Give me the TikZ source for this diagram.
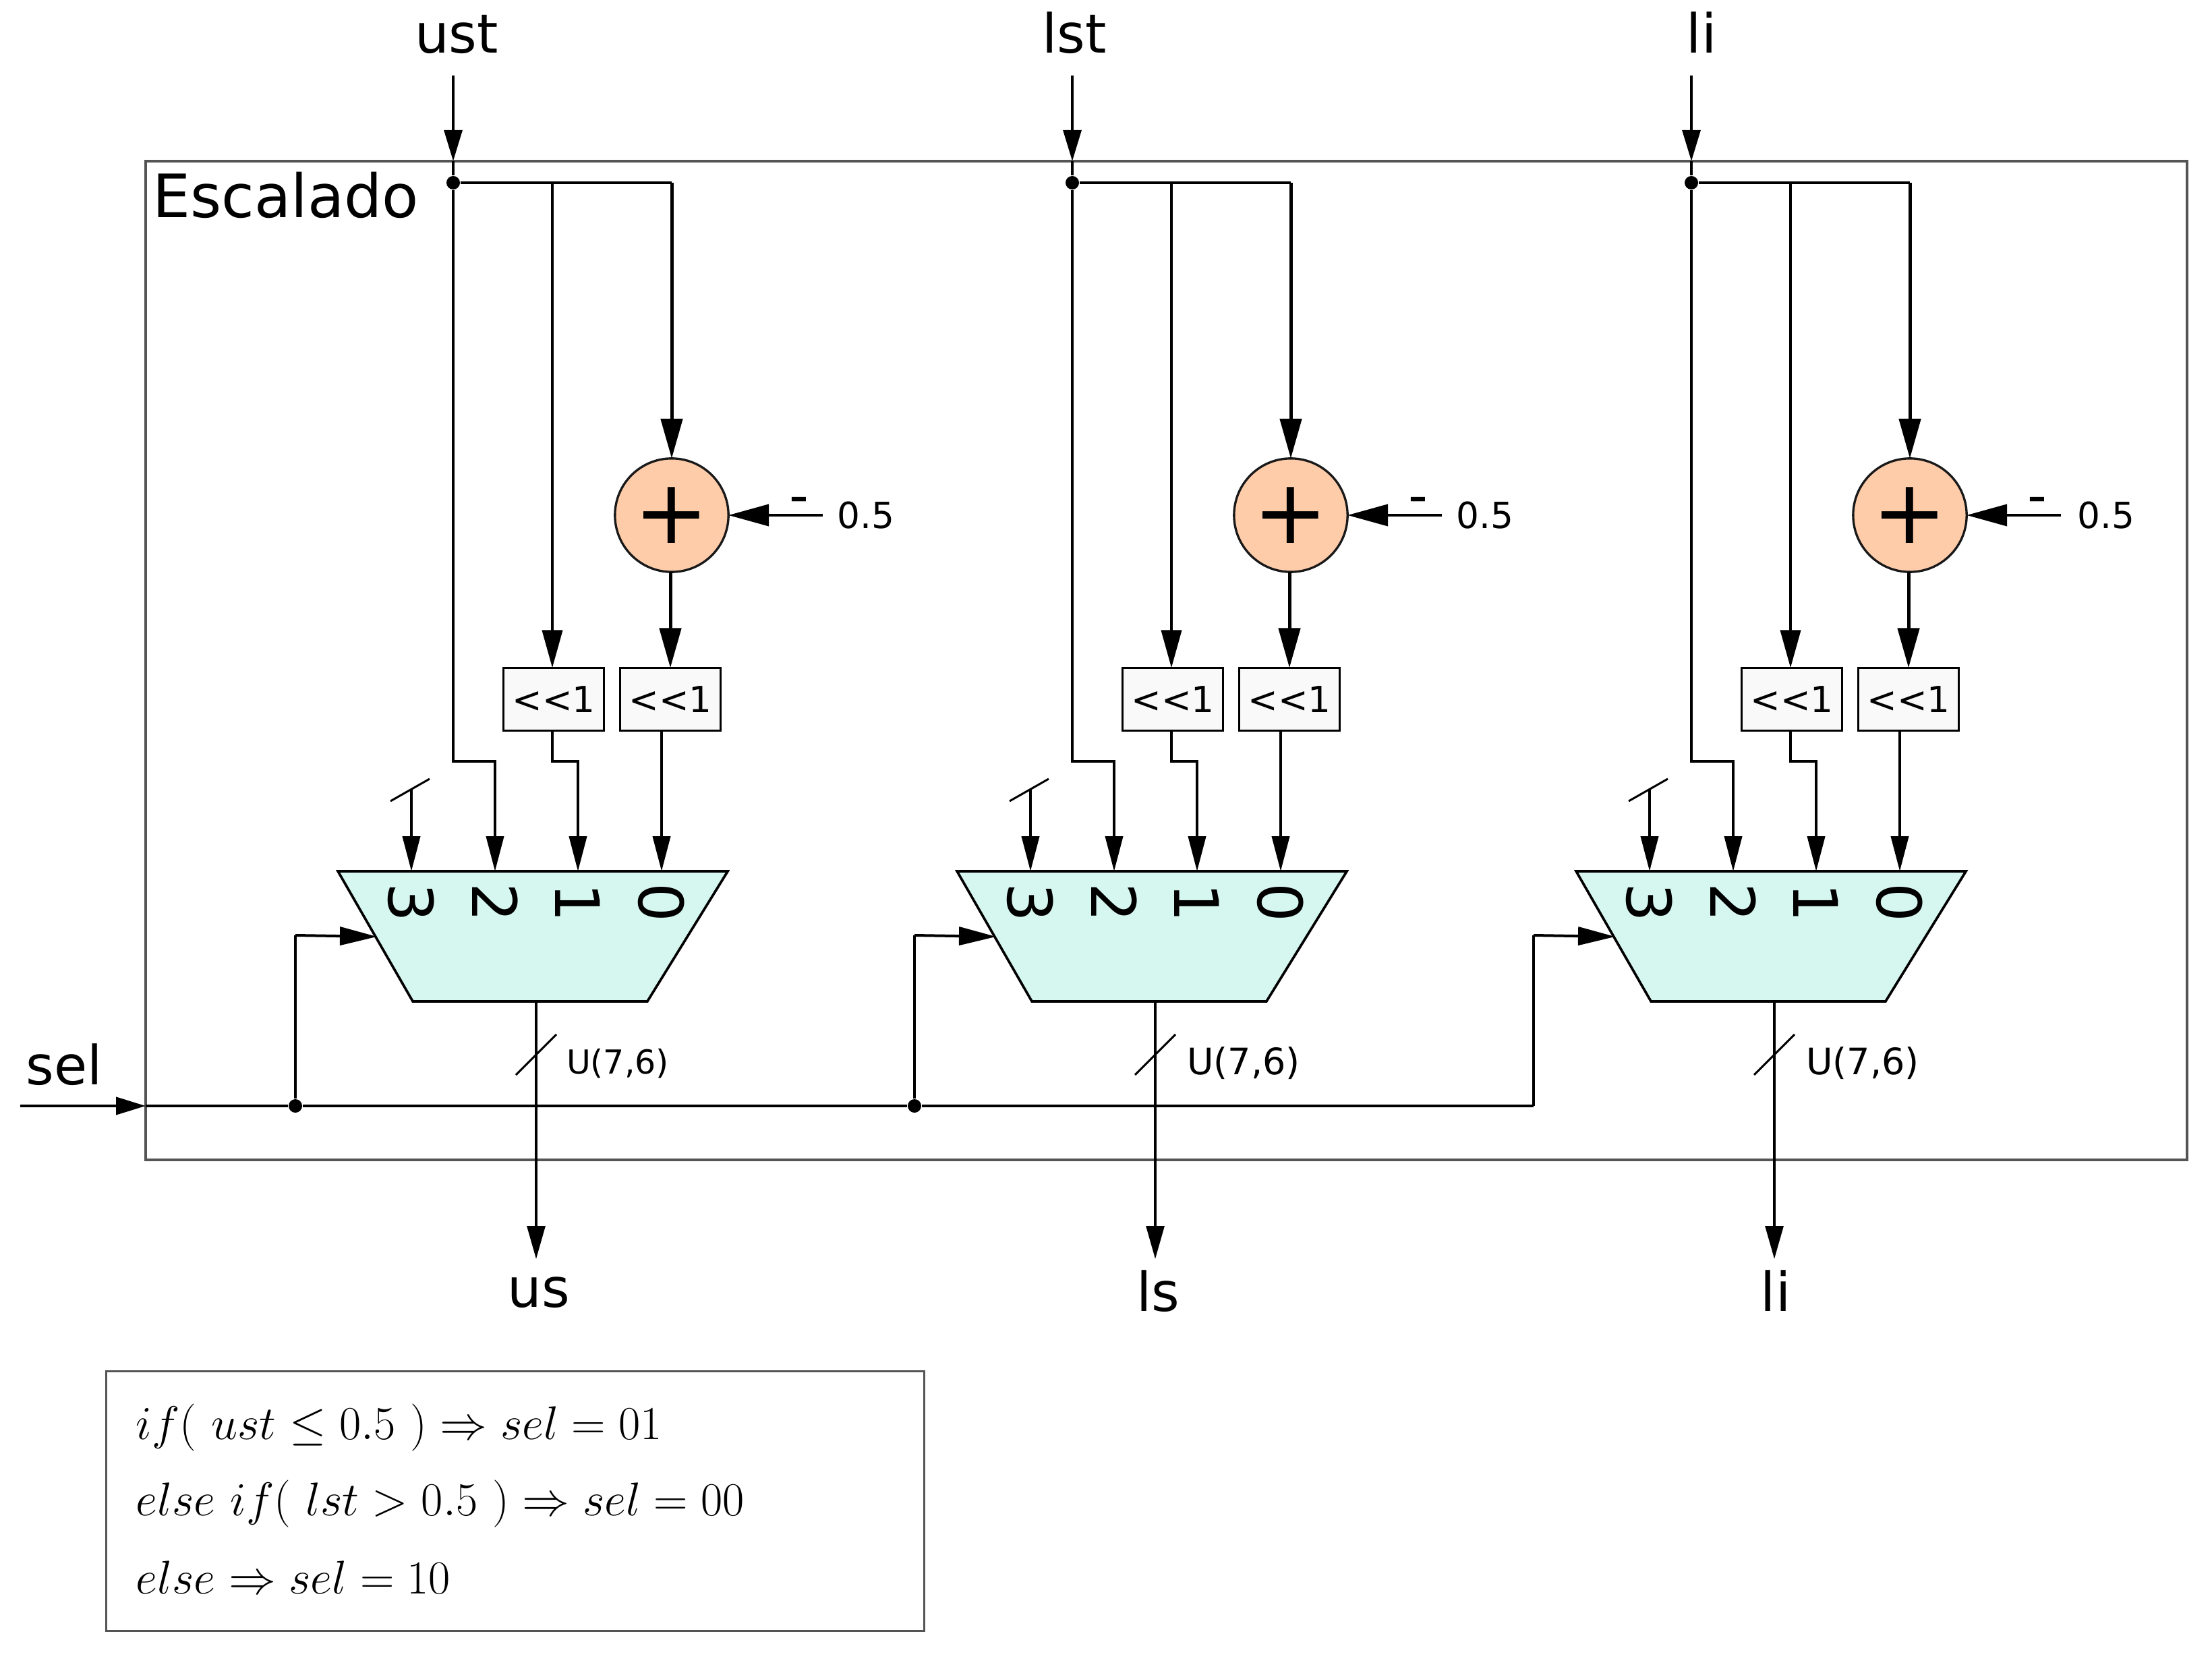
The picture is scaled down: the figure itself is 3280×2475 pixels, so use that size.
\documentclass[tikz,border=0pt]{standalone}
\usepackage{fontspec}
\setmainfont{DejaVu Sans}
\usepackage{amsmath}
\usepackage{amssymb}
\usetikzlibrary{arrows.meta,shapes.geometric}
\definecolor{peach}{HTML}{FFCCAA}
\definecolor{muxc}{HTML}{D6F6F0}
\tikzset{
  wire/.style={line width=1.2pt},
  arr/.style={wire,-{Triangle[length=15.6pt,width=7.8pt]}},
  bigarr/.style={line width=1.5pt,-{Triangle[length=17.7pt,width=9.6pt]}},
  joint/.style={circle,fill=black,inner sep=0pt,minimum size=6pt},
  port/.style={inner sep=0pt,anchor=base,font=\fontsize{24}{26}\selectfont},
  small/.style={inner sep=0pt,font=\fontsize{16}{18}\selectfont},
  adder/.style={circle,draw=black!90,line width=1pt,fill=peach,inner sep=0pt,outer sep=0pt,minimum size=50.5pt,font=\fontsize{39.6}{40}\selectfont},
  shifter/.style={draw,line width=.9pt,fill=black!2.5,inner sep=0pt,outer sep=0pt,minimum width=44.9pt,minimum height=28pt,font=\fontsize{16}{18}\selectfont},
  mux/.style={trapezium,draw,line width=1.1pt,fill=muxc,shape border rotate=180,trapezium left angle=58.3,trapezium right angle=60.1,trapezium stretches body=true,inner sep=0pt,outer sep=0pt,minimum width=173.4pt},
  muxin/.style={inner sep=0pt,rotate=-90,font=\fontsize{27.3}{28}\selectfont},
  ruleline/.style={inner sep=0pt,anchor=base west,scale=1.0135,transform shape,font=\fontsize{20.74}{22}\selectfont},
}
\begin{document}
\begin{tikzpicture}[x=0.3pt,y=-0.3pt]
  \useasboundingbox (0,0) rectangle (3280,2475);
  % outer block
  \node[draw=black!67,line width=1.2pt,inner sep=0pt,minimum width=908.1pt,minimum height=444.3pt] (block) at (1729.5,979.5) {};
  \node[inner sep=0pt,anchor=base,font=\fontsize{26.6}{28}\selectfont] (blockname) at (423.5,323) {Escalado};
  % select line
  \coordinate (selin) at (30,1640);
  \coordinate (selb) at (216,1640);
  \node[port] (sel) at (95,1608) {sel};
  \node[joint] (tap1) at (438,1640) {};
  \node[joint] (tap2) at (1356,1640) {};
  \coordinate (tap3) at (2274,1640);
  \draw[arr,-{Triangle[length=13.2pt,width=7.8pt]}] (selin) -- (selb);
  \draw[wire] (selb) -- (tap1) -- (tap2) -- (tap3);
  % the three columns
  \foreach \i/\xx/\inname/\outname/\inx/\outx/\outy/\numx/\usize/\ux in {1/0/ust/us/677/799/1938/1284/14.7/916,2/918/lst/ls/1593/1717/1944/2202/16.2/926,3/1836/li/li/2523/2633/1944/3123/16.2/926} {
    \begin{scope}[xshift=\xx*0.3pt]
      \coordinate (top\i) at (672,112);
      \coordinate (edge\i) at (672,239);
      \node[joint] (dot\i) at (672,271) {};
      \coordinate (branch\i) at (819,271);
      \coordinate (corner\i) at (996,271);
      \node[adder] (add\i) at (996,764) {+};
      \coordinate (half\i) at (1220,764);
      \node[inner sep=0pt,font=\fontsize{24}{24}\selectfont] (minus\i) at (1185,750) {-};
      \node[shifter] (shla\i) at (821,1037) {<{}<1};
      \node[shifter] (shlb\i) at (994,1037) {<{}<1};
      \node[mux] (mux\i) at (786,1388.5) {\phantom{\rule{1pt}{57.9pt}}};
      \node[muxin] (three\i) at (610,1338) {3};
      \node[muxin] (two\i) at (734,1338) {2};
      \node[muxin] (one\i) at (857,1338) {1};
      \node[muxin] (zero\i) at (981,1338) {0};
      \coordinate (stub\i) at (610,1170);
      \coordinate (in3\i) at (610,1292);
      \coordinate (in2\i) at (734,1292);
      \coordinate (in1\i) at (857,1292);
      \coordinate (in0\i) at (981,1292);
      \coordinate (jogb\i) at (734,1129);
      \coordinate (joga\i) at (857,1129);
      \coordinate (selbend\i) at (438,1387);
      \coordinate (selpin\i) at (559,1389);
      \coordinate (mo\i) at (795,1485);
      \coordinate (end\i) at (795,1867);
      \draw[arr,-{Triangle[length=13.8pt,width=8pt]}] (top\i) -- (edge\i);
      \draw[wire] (edge\i) -- (dot\i);
      \draw[wire] (dot\i) -- (corner\i);
      \draw[bigarr] (corner\i) -- (add\i.north);
      \draw[arr,-{Triangle[length=16.8pt,width=9pt]}] (branch\i) -- (branch\i |- shla\i.north);
      \draw[bigarr] (shlb\i |- add\i.south) -- (shlb\i.north);
      \draw[wire,-{Triangle[length=18pt,width=9.6pt]}] (half\i) -- (add\i.east);
      \draw[arr] (dot\i) |- (jogb\i) -- (in2\i);
      \draw[arr] (branch\i |- shla\i.south) |- (joga\i) -- (in1\i);
      \draw[arr] (in0\i |- shlb\i.south) -- (in0\i);
      \draw[arr] (stub\i) -- (in3\i);
      \draw[line width=.9pt] (579,1188) -- (637,1155);
      \draw[arr,-{Triangle[length=14.7pt,width=8pt]}] (mo\i) -- (end\i);
      \draw[line width=.9pt] (765,1594) -- (825,1534);
      \node[inner sep=0pt,font=\fontsize{\usize}{18}\selectfont] (width\i) at (\ux,1577) {U(7,6)};
      \draw[wire] (tap\i) -- (selbend\i);
      \draw[arr,-{Triangle[length=16.5pt,width=8.1pt]}] (selbend\i) -- (selpin\i);
    \end{scope}
    \node[port] (in\i) at (\inx,79) {\inname};
    \node[port] (out\i) at (\outx,\outy) {\outname};
    \node[small] (num\i) at (\numx,764) {0.5};
  }
  % selection rule
  \node[draw=black!67,line width=.9pt,inner sep=0pt,minimum width=363.9pt,minimum height=115.5pt] (rules) at (763.5,2225.5) {};
  \node[ruleline] (line1) at (201,2134) {$if(\ ust \leq 0.5\ ) \Rightarrow sel = 01$};
  \node[ruleline] (line2) at (201,2247) {$else\ if(\ lst > 0.5\ ) \Rightarrow sel = 00$};
  \node[ruleline] (line3) at (201,2363) {$else \Rightarrow sel = 10$};
\end{tikzpicture}
\end{document}
